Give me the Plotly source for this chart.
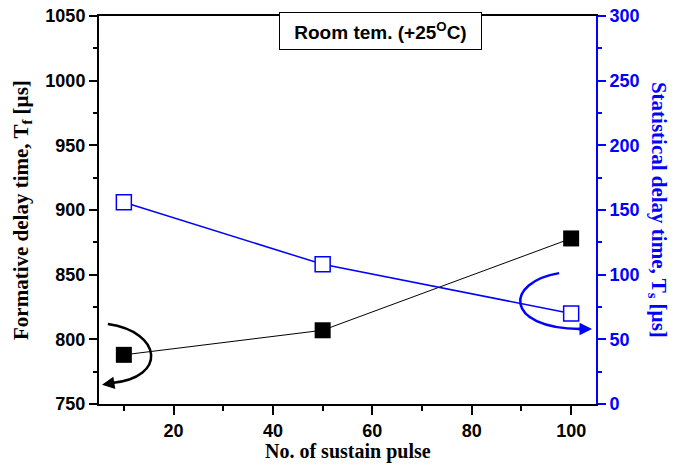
import plotly.graph_objects as go

# Measured delay times versus number of sustain pulses
pulses = [10, 50, 100]
formative_us = [788, 807, 878]      # left axis, filled squares
statistical_us = [156, 108, 70]     # right axis, open squares

BLUE = "#0000ff"
SANS = "Liberation Sans, Arial, sans-serif"
SERIF = "Liberation Serif, Times New Roman, serif"

fig = go.Figure()

fig.add_trace(go.Scatter(
    x=pulses, y=formative_us, mode="lines+markers",
    line=dict(color="black", width=1),
    marker=dict(symbol="square", size=16, color="black"),
    yaxis="y", showlegend=False,
))
fig.add_trace(go.Scatter(
    x=pulses, y=statistical_us, mode="lines+markers",
    line=dict(color=BLUE, width=1.5),
    marker=dict(symbol="square", size=15, color="white",
                line=dict(color=BLUE, width=1.5)),
    yaxis="y2", showlegend=False,
))

tickfont = dict(family=SANS, size=18, color="black", weight="bold")

fig.update_layout(
    width=684, height=465,
    margin=dict(l=99, r=88, t=16, b=61, autoexpand=False),
    paper_bgcolor="white", plot_bgcolor="white",
    xaxis=dict(
        range=[5, 105], dtick=20, tick0=0, automargin=False,
        showgrid=False, zeroline=False,
        showline=True, linecolor="black", linewidth=2, mirror=True,
        ticks="outside", ticklen=9, tickwidth=1.5, tickcolor="black",
        minor=dict(ticks="outside", ticklen=5, dtick=10, tick0=0,
                   tickcolor="black", tickwidth=1.5),
        tickfont=tickfont,
    ),
    yaxis=dict(
        range=[750, 1050], dtick=50, automargin=False,
        showgrid=False, zeroline=False,
        showline=True, linecolor="black", linewidth=2,
        ticks="outside", ticklen=8, tickwidth=1.5, tickcolor="black",
        minor=dict(ticks="outside", ticklen=4, dtick=25,
                   tickcolor="black", tickwidth=1.5),
        tickfont=tickfont,
    ),
    yaxis2=dict(
        range=[0, 300], dtick=50, overlaying="y", side="right", automargin=False,
        showgrid=False, zeroline=False,
        showline=True, linecolor=BLUE, linewidth=2,
        ticks="outside", ticklen=8, tickwidth=1.5, tickcolor=BLUE,
        minor=dict(ticks="outside", ticklen=4, dtick=25,
                   tickcolor=BLUE, tickwidth=1.5),
        tickfont=dict(family=SANS, size=18, color=BLUE, weight="bold"),
    ),
)

# Axis titles
fig.add_annotation(
    text="No. of sustain pulse", xref="paper", yref="paper",
    x=0.5, y=-0.1237, xanchor="center", yanchor="middle", showarrow=False,
    font=dict(family=SERIF, size=20, color="black", weight="bold"),
)
fig.add_annotation(
    text="Formative delay time, T<sub>f</sub> [µs]", xref="paper", yref="paper",
    x=-0.155, y=0.5, xanchor="center", yanchor="middle", textangle=-90,
    showarrow=False,
    font=dict(family=SERIF, size=21, color="black", weight="bold"),
)
fig.add_annotation(
    text="Statistical delay time, T<sub>s</sub> [µs]", xref="paper", yref="paper",
    x=1.125, y=0.5, xanchor="center", yanchor="middle", textangle=90,
    showarrow=False,
    font=dict(family=SERIF, size=21, color=BLUE, weight="bold"),
)

# Condition label box
fig.add_annotation(
    text="Room tem. (+25<sup>O</sup>C)", xref="paper", yref="paper",
    x=0.566, y=0.961, xanchor="center", yanchor="middle", showarrow=False,
    bgcolor="white", bordercolor="black", borderwidth=1, borderpad=2,
    width=197, height=32,
    font=dict(family=SANS, size=19, color="black", weight="bold"),
)

# Curved arrows pointing each series to its axis
fig.add_shape(
    type="path", xref="x", yref="y",
    path="M 6.78,811.8 C 17.85,805.6 18.66,770.1 7.58,766.2",
    line=dict(color="black", width=2.5),
)
fig.add_annotation(
    x=5.6, y=764.8, ax=8.2, ay=766.4, xref="x", yref="y", axref="x", ayref="y",
    text="", showarrow=True, arrowhead=2, arrowsize=1, arrowwidth=2.5,
    arrowcolor="black",
)
fig.add_shape(
    type="path", xref="x", yref="y2",
    path="M 97.58,101.2 C 86.71,94.3 86.30,58.7 101.8,58.0",
    line=dict(color=BLUE, width=2.5),
)
fig.add_annotation(
    x=104.2, y=58.0, ax=101.0, ay=58.0, xref="x", yref="y2", axref="x", ayref="y2",
    text="", showarrow=True, arrowhead=2, arrowsize=1, arrowwidth=2.5,
    arrowcolor=BLUE,
)

fig.write_html("out.html")
